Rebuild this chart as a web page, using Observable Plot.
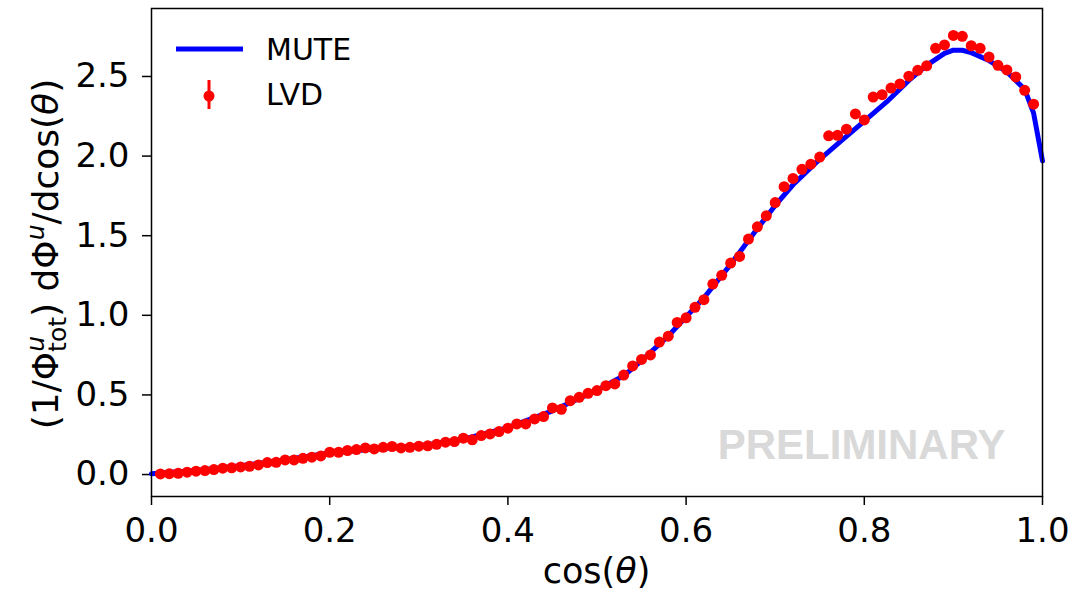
<!DOCTYPE html>
<html><head><meta charset="utf-8">
<script src="https://cdn.jsdelivr.net/npm/d3@7"></script>
<script src="https://cdn.jsdelivr.net/npm/@observablehq/plot@0.6"></script>
<style>body{margin:0;background:#fff;} svg{display:block}</style>
</head><body><div id="chart"></div>
<script>
// LVD measured points (cos theta bin, normalized distribution)
const lvdX = [0.01,0.02,0.03,0.04,0.05,0.06,0.07,0.08,0.09,0.10,
0.11,0.12,0.13,0.14,0.15,0.16,0.17,0.18,0.19,0.20,
0.21,0.22,0.23,0.24,0.25,0.26,0.27,0.28,0.29,0.30,
0.31,0.32,0.33,0.34,0.35,0.36,0.37,0.38,0.39,0.40,
0.41,0.42,0.43,0.44,0.45,0.46,0.47,0.48,0.49,0.50,
0.51,0.52,0.53,0.54,0.55,0.56,0.57,0.58,0.59,0.60,
0.61,0.62,0.63,0.64,0.65,0.66,0.67,0.68,0.69,0.70,
0.71,0.72,0.73,0.74,0.75,0.76,0.77,0.78,0.79,0.80,
0.81,0.82,0.83,0.84,0.85,0.86,0.87,0.88,0.89,0.90,
0.91,0.92,0.93,0.94,0.95,0.96,0.97,0.98,0.99];
const lvdY = [0.004,0.005,0.008,0.015,0.021,0.025,0.031,0.040,0.042,0.048,
0.052,0.060,0.075,0.077,0.092,0.092,0.102,0.109,0.117,0.140,
0.140,0.151,0.157,0.167,0.161,0.171,0.176,0.167,0.171,0.178,
0.180,0.190,0.203,0.207,0.228,0.218,0.245,0.255,0.270,0.291,
0.318,0.318,0.349,0.364,0.418,0.410,0.464,0.485,0.510,0.527,
0.558,0.569,0.625,0.682,0.723,0.751,0.832,0.869,0.955,0.984,
1.050,1.098,1.196,1.251,1.328,1.370,1.479,1.556,1.625,1.708,
1.808,1.860,1.917,1.949,1.994,2.127,2.131,2.169,2.265,2.227,
2.371,2.386,2.427,2.453,2.502,2.539,2.567,2.677,2.698,2.758,
2.752,2.693,2.677,2.622,2.570,2.541,2.497,2.413,2.326];
// MUTE simulation curve
const muteX = [0.00,0.05,0.10,0.15,0.20,0.25,0.30,0.35,0.40,0.45,0.50,0.53,0.55,0.58,0.60,0.62,0.65,0.68,0.70,0.72,0.75,0.775,0.80,0.825,0.85,0.87,0.89,0.90,0.91,0.92,0.94,0.96,0.98,0.99,1.00];
const muteY = [0.005,0.025,0.055,0.093,0.135,0.160,0.180,0.222,0.295,0.400,0.530,0.620,0.715,0.870,0.990,1.110,1.320,1.545,1.690,1.820,1.980,2.100,2.220,2.340,2.475,2.570,2.645,2.665,2.665,2.650,2.600,2.530,2.420,2.270,1.970];
const xTicks = [0.0,0.2,0.4,0.6,0.8,1.0];
const yTicks = [0.0,0.5,1.0,1.5,2.0,2.5];
const seriesNames = ["MUTE","LVD"];
const watermark = "PRELIMINARY";

const lvd = lvdX.map((x,i)=>({x, y: lvdY[i]}));
const mute = muteX.map((x,i)=>({x, y: muteY[i]}));

const chart = Plot.plot({
  width: 1073, height: 593,
  marginLeft: 151, marginRight: 31, marginTop: 8, marginBottom: 97,
  style: {fontFamily: "DejaVu Sans", color: "#000", background: "#fff", overflow: "visible"},
  x: {domain: [0, 1]},
  y: {domain: [-0.138, 2.927]},
  marks: [
    Plot.axisX({ticks: xTicks, tickFormat: d3.format(".1f"), tickSize: 9, tickPadding: 12, fontSize: 34, strokeWidth: 1.5, label: null}),
    Plot.axisY({ticks: yTicks, tickFormat: d3.format(".1f"), tickSize: 9, tickPadding: 13, fontSize: 34, strokeWidth: 1.5, label: null}),
    Plot.text([watermark], {frameAnchor: "bottom-right", text: d => d, dx: -37, dy: -38, lineAnchor: "bottom", textAnchor: "end",
      fontSize: 42, fontWeight: "bold", fontFamily: "Liberation Sans", fill: "#d9d9d9"}),
    Plot.line(mute, {x: "x", y: "y", stroke: "#0000ff", strokeWidth: 5}),
    Plot.dot(lvd, {x: "x", y: "y", r: 5.5, fill: "#ff0000"}),
    Plot.frame({stroke: "#000", strokeWidth: 1.5})
  ]
});
document.getElementById("chart").appendChild(chart);

const svg = d3.select(chart);
// Legend
const lg = svg.append("g").attr("font-family", "DejaVu Sans").attr("font-size", 30).attr("fill", "#000").attr("text-anchor", "start");
lg.append("line").attr("x1", 176).attr("x2", 243).attr("y1", 49).attr("y2", 49).attr("stroke", "#0000ff").attr("stroke-width", 5);
lg.append("text").attr("x", 266).attr("y", 60).attr("text-anchor", "start").text(seriesNames[0]);
lg.append("line").attr("x1", 209).attr("x2", 209).attr("y1", 80).attr("y2", 109).attr("stroke", "#ff0000").attr("stroke-width", 3);
lg.append("circle").attr("cx", 209).attr("cy", 96).attr("r", 5.5).attr("fill", "#ff0000");
lg.append("text").attr("x", 266).attr("y", 105).attr("text-anchor", "start").text(seriesNames[1]);

// Y label
const yl = svg.append("text").attr("transform", "translate(58,254) rotate(-90)")
  .attr("text-anchor", "middle").attr("font-family", "DejaVu Sans").attr("font-size", 36).attr("fill", "#000");
yl.append("tspan").text("(1/Φ");
yl.append("tspan").attr("font-size", 25).attr("font-style", "italic").attr("dy", -14).text("u");
yl.append("tspan").attr("font-size", 25).attr("dx", -16).attr("dy", 22).text("tot");
yl.append("tspan").attr("dy", -8).text(") dΦ");
yl.append("tspan").attr("font-size", 25).attr("font-style", "italic").attr("dy", -14).text("u");
yl.append("tspan").attr("dy", 14).text("/dcos(");
yl.append("tspan").attr("font-style", "italic").text("θ");
yl.append("tspan").text(")");

// X label
const xl = svg.append("text").attr("x", 596.5).attr("y", 583).attr("text-anchor", "middle")
  .attr("font-family", "DejaVu Sans").attr("font-size", 35).attr("fill", "#000");
xl.append("tspan").text("cos(");
xl.append("tspan").attr("font-style", "italic").text("θ");
xl.append("tspan").text(")");
</script>
</body></html>
